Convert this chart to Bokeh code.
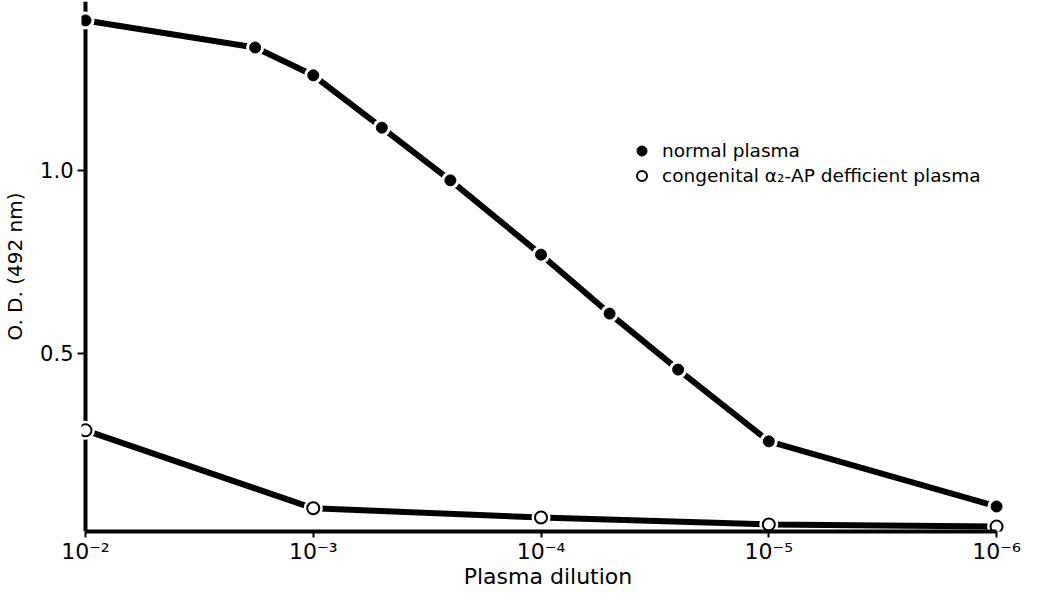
from bokeh.plotting import figure
from bokeh.models import (Range1d, FixedTicker, CustomJSTickFormatter, Span,
                          Legend, LegendItem, PrintfTickFormatter)
from bokeh.embed import file_html
from bokeh.resources import INLINE

# ---------------- data ----------------
normal_dilution = [1e-2, 1.8e-3, 1e-3, 5e-4, 2.5e-4, 1e-4, 5e-5, 2.5e-5, 1e-5, 1e-6]
normal_od = [1.41, 1.336, 1.26, 1.117, 0.973, 0.770, 0.609, 0.456, 0.260, 0.082]
deficient_dilution = [1e-2, 1e-3, 1e-4, 1e-5, 1e-6]
deficient_od = [0.290, 0.077, 0.052, 0.033, 0.027]
x_ticks = [1e-2, 1e-3, 1e-4, 1e-5, 1e-6]
y_ticks = [0.5, 1.0]
x_label = "Plasma dilution"
y_label = "O. D. (492 nm)"
series_names = ["normal plasma", "congenital α₂-AP defficient plasma"]

FONT = "DejaVu Sans"

p = figure(width=1028, height=591, x_axis_type="log",
           output_backend="svg", toolbar_location=None,
           x_range=Range1d(10 ** -1.9825, 10 ** -6.0788),
           y_range=Range1d(0.01366, 1.4617),
           min_border_left=78, min_border_right=14,
           min_border_top=1, min_border_bottom=60)
p.grid.visible = False
p.outline_line_color = None
p.background_fill_color = "white"
p.border_fill_color = "white"

# ---- x axis ----
xa = p.xaxis[0]
xa.ticker = FixedTicker(ticks=x_ticks)
xa.formatter = CustomJSTickFormatter(code=r"""
const sup = {"-": "\u207B", "0": "\u2070", "1": "\u00B9", "2": "\u00B2", "3": "\u00B3",
             "4": "\u2074", "5": "\u2075", "6": "\u2076", "7": "\u2077", "8": "\u2078", "9": "\u2079"};
const e = Math.round(Math.log10(tick));
return "10" + String(e).split("").map((c) => sup[c]).join("");
""")
xa.bounds = (min(x_ticks), max(x_ticks))
xa.axis_line_width = 4
xa.axis_line_color = "black"
xa.major_tick_line_width = 2
xa.major_tick_out = 6
xa.major_tick_in = 0
xa.minor_tick_line_color = None
xa.major_label_text_font = FONT
xa.major_label_text_font_size = "22px"
xa.major_label_text_color = "black"
xa.major_label_standoff = 1
xa.axis_label = x_label
xa.axis_label_text_font = FONT
xa.axis_label_text_font_size = "22px"
xa.axis_label_text_font_style = "normal"
xa.axis_label_text_color = "black"
xa.axis_label_standoff = -3

# ---- y axis ----
ya = p.yaxis[0]
ya.ticker = FixedTicker(ticks=y_ticks)
ya.formatter = PrintfTickFormatter(format="%.1f")
ya.axis_line_color = None
ya.major_tick_line_width = 2
ya.major_tick_in = 4
ya.major_tick_out = 4
ya.minor_tick_line_color = None
ya.major_label_text_font = FONT
ya.major_label_text_font_size = "21px"
ya.major_label_text_color = "black"
ya.major_label_standoff = 4
ya.axis_label = y_label
ya.axis_label_text_font = FONT
ya.axis_label_text_font_size = "20px"
ya.axis_label_text_font_style = "normal"
ya.axis_label_text_color = "black"
ya.axis_label_standoff = 10

# visible y axis line at the first dilution
p.add_layout(Span(location=x_ticks[0], dimension="height", line_width=4,
                  line_color="black", level="underlay"))

# ---- series ----
p.line(normal_dilution, normal_od, line_width=6, line_color="black")
p.line(deficient_dilution, deficient_od, line_width=6, line_color="black")

# white halos around the markers
p.scatter(normal_dilution, normal_od, size=18, fill_color="white", line_color=None)
p.scatter(deficient_dilution, deficient_od, size=19, fill_color="white", line_color=None)

r_normal = p.scatter(normal_dilution, normal_od, size=11, fill_color="black",
                     line_color="black", line_width=1)
r_def = p.scatter(deficient_dilution, deficient_od, size=12, fill_color="white",
                  line_color="black", line_width=2)

legend = Legend(items=[LegendItem(label=series_names[0], renderers=[r_normal]),
                       LegendItem(label=series_names[1], renderers=[r_def])],
                location=(548, 343), orientation="vertical",
                glyph_width=25, glyph_height=25, label_standoff=8,
                spacing=0, padding=0, margin=0, label_height=25,
                border_line_color=None, background_fill_alpha=0,
                label_text_font=FONT, label_text_font_size="18.5px",
                label_text_color="black")
p.add_layout(legend)

open("out.html", "w").write(file_html(p, INLINE))
